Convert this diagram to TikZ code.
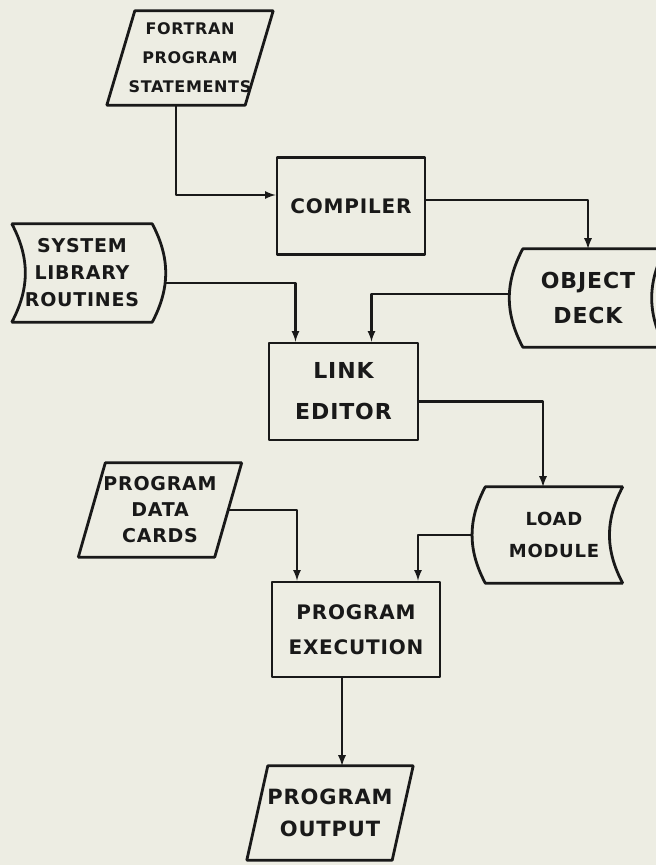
\documentclass[tikz,border=0pt]{standalone}
\usepackage{fontspec}
\setmainfont{DejaVu Sans}[LetterSpace=4]
\usetikzlibrary{arrows}

\definecolor{ink}{rgb}{0.1,0.1,0.1}
\definecolor{paper}{rgb}{0.93,0.93,0.89}

\begin{document}
\begin{tikzpicture}[>=latex,line join=bevel,
  outline/.style={draw=ink,line width=2.8bp},
  procbox/.style={outline,rectangle,inner sep=0pt,align=center,text=ink},
  databox/.style={rectangle,inner sep=0pt,align=center,text=ink},
  flow/.style={->,draw=ink,line width=2.6bp}]
%%
\useasboundingbox (0bp,0bp) rectangle (656bp,865bp);
\fill[paper] (0bp,0bp) rectangle (656bp,865bp);
  % Node: fortran
  \node[databox,minimum width=138bp,minimum height=94bp,font=\bfseries\fontsize{16bp}{29bp}\selectfont]
    (fortran) at (190bp,807bp) {FORTRAN\\PROGRAM\\STATEMENTS};
  % Node: compiler
  \node[procbox,minimum width=148bp,minimum height=97bp,font=\bfseries\fontsize{20bp}{28bp}\selectfont]
    (compiler) at (351bp,659bp) {COMPILER};
  % Node: system
  \node[databox,minimum width=140bp,minimum height=98bp,font=\bfseries\fontsize{19bp}{27bp}\selectfont]
    (system) at (82bp,592bp) {SYSTEM\\LIBRARY\\ROUTINES};
  % Node: objdeck
  \node[databox,minimum width=130bp,minimum height=98bp,font=\bfseries\fontsize{22bp}{35bp}\selectfont]
    (objdeck) at (588bp,567bp) {OBJECT\\DECK};
  % Node: link
  \node[procbox,minimum width=149bp,minimum height=97bp,font=\bfseries\fontsize{22bp}{41bp}\selectfont]
    (link) at (343.5bp,473.5bp) {LINK\\EDITOR};
  % Node: loadmod
  \node[databox,minimum width=137bp,minimum height=96bp,font=\bfseries\fontsize{18bp}{32bp}\selectfont]
    (loadmod) at (554bp,330bp) {LOAD\\MODULE};
  % Node: cards
  \node[databox,minimum width=136bp,minimum height=94bp,font=\bfseries\fontsize{19bp}{26bp}\selectfont]
    (cards) at (160bp,355bp) {PROGRAM\\DATA\\CARDS};
  % Node: exec
  \node[procbox,minimum width=168bp,minimum height=95bp,font=\bfseries\fontsize{20bp}{35bp}\selectfont]
    (exec) at (356bp,235.5bp) {PROGRAM\\EXECUTION};
  % Node: output
  \node[databox,minimum width=145bp,minimum height=94bp,font=\bfseries\fontsize{21bp}{32bp}\selectfont]
    (output) at (330bp,52bp) {PROGRAM\\OUTPUT};
%
  % Outlines: cards in and out
  \foreach \n/\s in {fortran/14,cards/13.5,output/10.5}
    \draw[outline] ([xshift=\s bp]\n.north west) -- ([xshift=\s bp]\n.north east)
      -- ([xshift=-\s bp]\n.south east) -- ([xshift=-\s bp]\n.south west) -- cycle;
  % Outlines: stored data
  \draw[outline] (system.north west) to[bend left=28] (system.south west)
    -- (system.south east) to[bend right=28] (system.north east) -- cycle;
  \draw[outline] ([xshift=12bp]objdeck.north east) -- (objdeck.north west)
    to[bend right=28] (objdeck.south west) -- ([xshift=12bp]objdeck.south east)
    to[bend left=28] ([xshift=12bp]objdeck.north east);
  \draw[outline] (loadmod.north west) to[bend right=28] (loadmod.south west)
    -- (loadmod.south east) to[bend left=28] (loadmod.north east) -- cycle;
%
  % Edge: fortran -> compiler
  \draw[flow] ([xshift=-14bp]fortran.south) |- ([yshift=11bp]compiler.west);
  % Edge: compiler -> objdeck
  \draw[flow] ([yshift=6bp]compiler.east) -| (objdeck.north);
  % Edge: system -> link
  \draw[flow] ([xshift=14bp,yshift=-10bp]system.east) -| ([xshift=-48bp]link.north);
  % Edge: objdeck -> link
  \draw[flow] ([xshift=-14bp,yshift=4bp]objdeck.west) -| ([xshift=28bp]link.north);
  % Edge: link -> loadmod
  \draw[flow] ([yshift=-10bp]link.east) -| ([xshift=-11bp]loadmod.north);
  % Edge: loadmod -> exec
  \draw[flow] ([xshift=-14bp]loadmod.west) -| ([xshift=62bp]exec.north);
  % Edge: cards -> exec
  \draw[flow] (cards.east) -| ([xshift=-59bp]exec.north);
  % Edge: exec -> output
  \draw[flow] ([xshift=-14bp]exec.south) -- ([xshift=-14bp]exec.south |- output.north);
%
\end{tikzpicture}
\end{document}
